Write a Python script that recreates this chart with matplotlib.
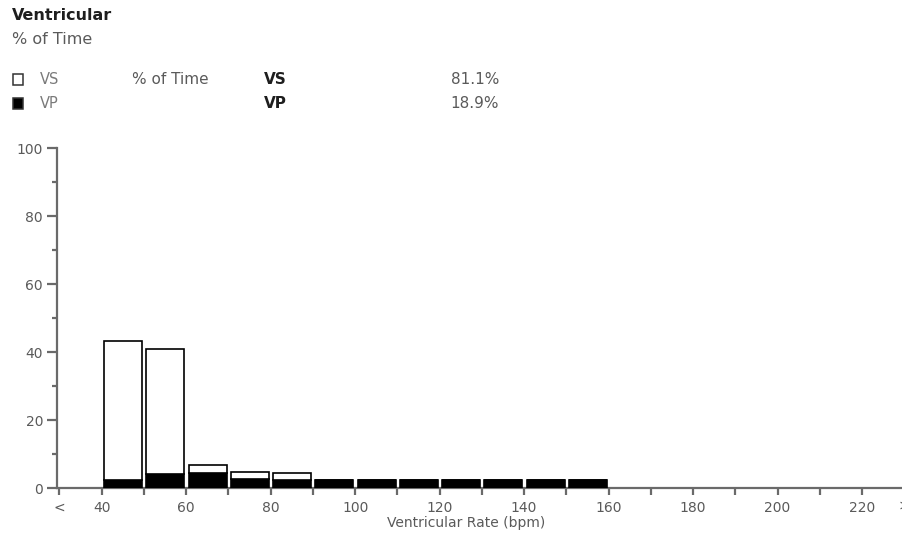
import numpy as np
import matplotlib
matplotlib.use("Agg")
import matplotlib.pyplot as plt

plt.rcParams["font.family"] = ["DejaVu Sans"]

# histogram bins (left edge, bpm) and stacked values (% of time)
bin_left = [40, 50, 60, 70, 80, 90, 100, 110, 120, 130, 140, 150]
vp_vals = [2.3, 4.1, 4.5, 2.7, 2.3, 2.3, 2.3, 2.3, 2.3, 2.3, 2.3, 2.3]
vs_vals = [40.9, 36.9, 2.3, 2.0, 2.0, 0, 0, 0, 0, 0, 0, 0]

x_ticks = list(range(30, 230, 10))
x_labels = ["<"] + ["" if t % 20 else str(t) for t in range(40, 230, 10)]
y_major = [0, 20, 40, 60, 80, 100]
y_minor = [10, 30, 50, 70, 90]

vs_pct = "81.1%"
vp_pct = "18.9%"

W, H = 902, 534
GREY = "#5a5a5a"
AX = "#6a6a6a"
PX = 4.224          # pixels per bpm in the reference
X40 = 101.7         # pixel position of 40 bpm

fig = plt.figure(figsize=(W / 100, H / 100), dpi=100)
ax = fig.add_axes([57 / W, (H - 488) / H, (W - 57) / W, 340 / H])

left = np.array(bin_left) + 0.6
ax.bar(left, vp_vals, width=9.0, align="edge",
       color="black", edgecolor="black", linewidth=1.2, zorder=3)
ax.bar(left, vs_vals, width=9.0, align="edge",
       bottom=vp_vals, color="white", edgecolor="black", linewidth=1.2, zorder=3)

ax.set_xlim(40 - (X40 - 57) / PX, 40 + (W - X40) / PX)
ax.set_ylim(0, 100)
ax.spines["top"].set_visible(False)
ax.spines["right"].set_visible(False)
for s in ["left", "bottom"]:
    ax.spines[s].set_color(AX)
    ax.spines[s].set_linewidth(1.6)

ax.set_xticks(x_ticks)
ax.set_xticklabels(x_labels)
ax.set_yticks(y_major)
ax.set_yticks(y_minor, minor=True)
ax.tick_params(axis="both", colors=AX, labelcolor=GREY, labelsize=10, width=1.6)
ax.tick_params(axis="y", which="major", length=7, pad=3)
ax.tick_params(axis="y", which="minor", colors=AX, width=1.6, length=3.5)
ax.tick_params(axis="x", length=5, pad=4)

# partly cut-off ">" label at the right edge, as in the reference
fig.text(904 / W, 1 - 506 / H, ">", ha="center", va="center", fontsize=10, color=GREY)

fig.text(466 / W, 1 - 523 / H, "Ventricular Rate (bpm)", ha="center", va="center",
         fontsize=10, color=GREY)

# header
fig.text(12 / W, 1 - 16 / H, "Ventricular", ha="left", va="center",
         fontsize=11.5, fontweight="bold", color="#1e1e1e")
fig.text(12 / W, 1 - 40 / H, "% of Time", ha="left", va="center",
         fontsize=11.5, color=GREY)

rows = [("VS", "white", vs_pct, "% of Time", 79), ("VP", "black", vp_pct, "", 103)]
for name, fc, pct, lab, yy in rows:
    fig.patches.append(plt.Rectangle((12.5 / W, 1 - (yy + 5.5) / H), 10.5 / W, 10.5 / H,
                                     transform=fig.transFigure, facecolor=fc,
                                     edgecolor="#333333", linewidth=1.1))
    fig.text(40 / W, 1 - yy / H, name, ha="left", va="center", fontsize=10.5, color="#7a7a7a")
    if lab:
        fig.text(132 / W, 1 - yy / H, lab, ha="left", va="center", fontsize=11, color=GREY)
    fig.text(264 / W, 1 - yy / H, name, ha="left", va="center", fontsize=11,
             fontweight="bold", color="#1e1e1e")
    fig.text(499 / W, 1 - yy / H, pct, ha="right", va="center", fontsize=11, color=GREY)

fig.savefig("out.png", dpi=100)
